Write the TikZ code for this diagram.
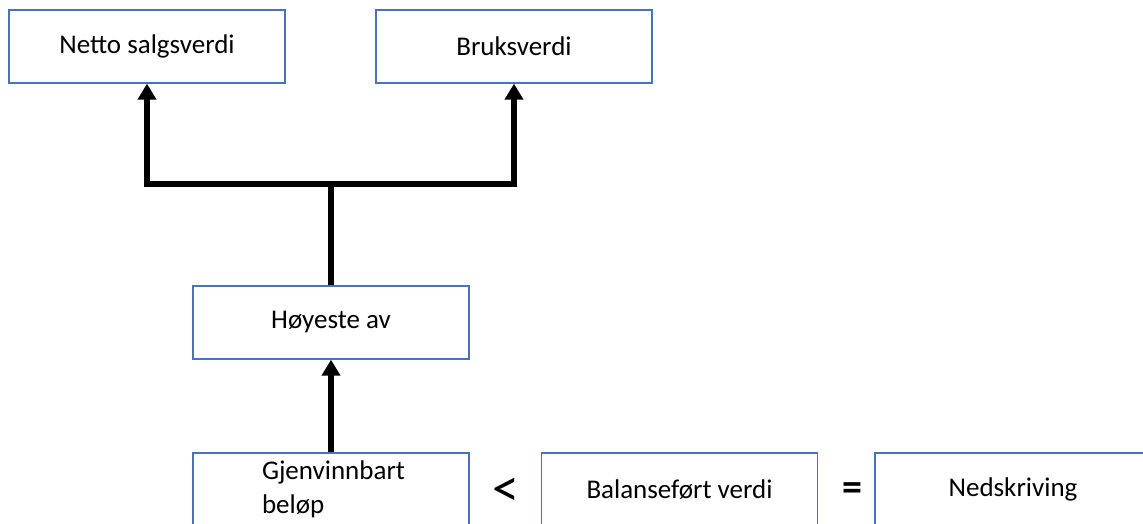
\documentclass[tikz,border=0pt]{standalone}
\usepackage{fontspec}
\setmainfont{Carlito}
\usetikzlibrary{arrows.meta}
\definecolor{boxline}{RGB}{74,114,186}
\tikzset{
  box/.style={draw=boxline, line width=1.3pt, minimum width=276pt, minimum height=73pt, inner sep=0pt, font=\fontsize{27}{34}\selectfont},
  conn/.style={line width=5.5pt, black, line join=miter},
  arr/.style={conn, -{Triangle[width=18pt,length=16pt]}},
  sym/.style={font=\fontsize{40}{44}\selectfont\bfseries, inner sep=0pt},
  ltsym/.style={font=\fontsize{54}{58}\selectfont, inner sep=0pt}
}
\begin{document}
\begin{tikzpicture}[x=1pt,y=1pt]
\useasboundingbox (0,0) rectangle (1143,-523);
\node[box] (A) at (147,-46.5) {Netto salgsverdi};
\node[box] (B) at (514,-46.5) {Bruksverdi};
\node[box] (C) at (331,-322.5) {Høyeste av};
\node[box, text width=276pt, align=left] (D) at (331,-489.5) {\hspace*{69pt}Gjenvinnbart\\\hspace*{69pt}beløp};
\node[box] (E) at (679.5,-489.5) {Balanseført verdi};
\node[box] (F) at (1013,-489.5) {Nedskriving};
\node[ltsym] (lt) at (506,-492) {<};
\node[sym] (eq) at (852,-492) {=};
\coordinate (J) at (331,-184);
\draw[conn] (C.north) -- (J);
\draw[arr] (J) -| (A.south);
\draw[arr] (J) -| (B.south);
\draw[arr] (D.north) -- (C.south);
\end{tikzpicture}
\end{document}
